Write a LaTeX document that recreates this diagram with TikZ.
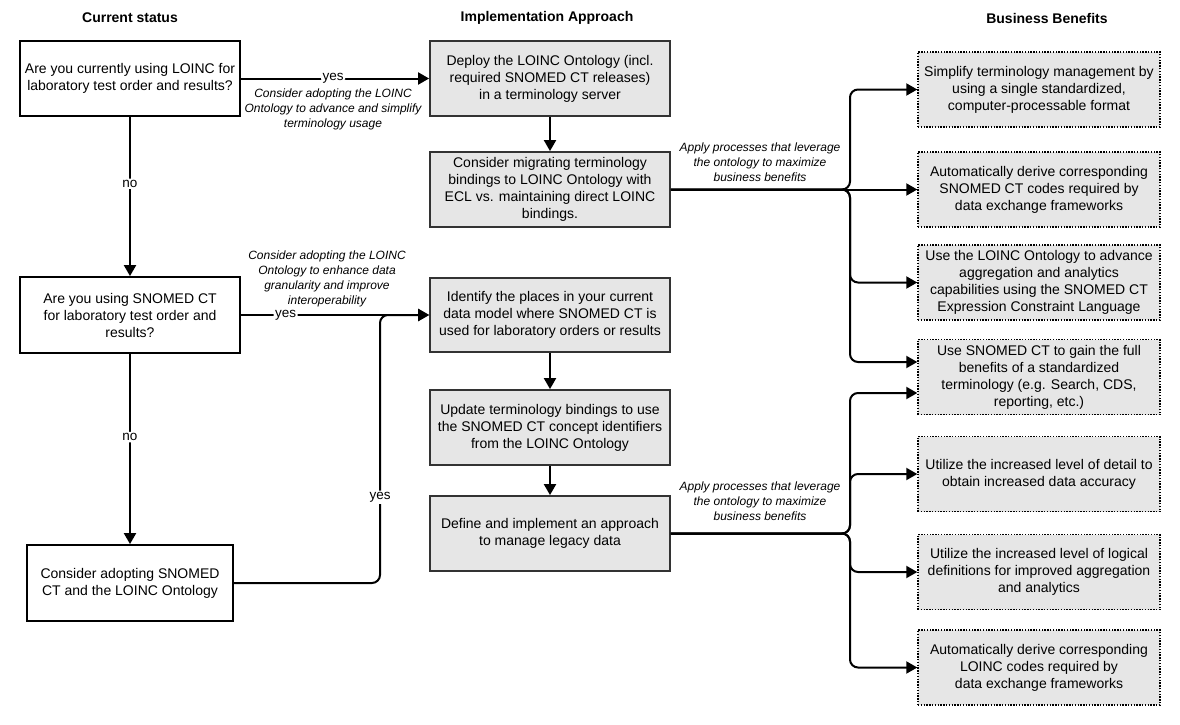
\documentclass[tikz,border=0pt]{standalone}
\usepackage{fontspec}
\setmainfont{Liberation Sans}
\usetikzlibrary{arrows.meta,calc}
\definecolor{boxgray}{HTML}{E6E6E6}
\definecolor{edgegray}{HTML}{333333}
\tikzset{
  basebox/.style={align=center, inner sep=0pt, font=\fontsize{14}{17}\selectfont},
  statusbox/.style={basebox, draw=black, fill=white, line width=1.8pt},
  implbox/.style={basebox, draw=edgegray, fill=boxgray, line width=1.8pt, minimum width=240pt, minimum height=75pt},
  benbox/.style={basebox, draw=black, fill=boxgray, line width=1.4pt, dash pattern=on 1.4pt off 1.4pt, minimum width=242pt, minimum height=75pt},
  title/.style={font=\bfseries\fontsize{14}{16}\selectfont},
  conn/.style={line width=2pt, draw=black, -{Triangle[length=11pt,width=12pt]}, rounded corners=8pt},
  elabel/.style={fill=white, inner sep=1.5pt, font=\fontsize{13.5}{15}\selectfont},
  note/.style={align=center, inner sep=0pt, font=\itshape\fontsize{12}{15}\selectfont},
}
\begin{document}
\begin{tikzpicture}[x=1pt,y=-1pt]
\useasboundingbox (0,0) rectangle (1180,725);

% titles
\node[title] (t1) at (130,18) {Current status};
\node[title] (t2) at (547,18) {Implementation Approach};
\node[title] (t3) at (1047,18) {Business Benefits};

% current status column
\node[statusbox, minimum width=220pt, minimum height=75pt] (A) at (130,78.5) {Are you currently using LOINC for\\laboratory test order and results?};
\node[statusbox, minimum width=220pt, minimum height=76pt] (B) at (130,315) {Are you using SNOMED CT\\for laboratory test order and\\results?};
\node[statusbox, minimum width=206pt, minimum height=76pt] (C) at (130,583) {Consider adopting SNOMED\\CT and the LOINC Ontology};

% implementation column
\node[implbox] (D) at (550,78.5) {Deploy the LOINC Ontology (incl.\\required SNOMED CT releases)\\in a terminology server};
\node[implbox] (E) at (550,189.5) {Consider migrating terminology\\bindings to LOINC Ontology with\\ECL vs. maintaining direct LOINC\\bindings.};
\node[implbox, minimum height=74pt] (F) at (550,315) {Identify the places in your current\\data model where SNOMED CT is\\used for laboratory orders or results};
\node[implbox] (G) at (550,427.5) {Update terminology bindings to use\\the SNOMED CT concept identifiers\\from the LOINC Ontology};
\node[implbox] (H) at (550,533.5) {Define and implement an approach\\to manage legacy data};

% benefits column
\node[benbox] (R1) at (1039,89.5) {Simplify terminology management by\\using a single standardized,\\computer-processable format};
\node[benbox] (R2) at (1039,189.5) {Automatically derive corresponding\\SNOMED CT codes required by\\data exchange frameworks};
\node[benbox] (R3) at (1039,282.5) {Use the LOINC Ontology to advance\\aggregation and analytics\\capabilities using the SNOMED CT\\Expression Constraint Language};
\node[benbox] (R4) at (1039,377) {Use SNOMED CT to gain the full\\benefits of a standardized\\terminology (e.g. Search, CDS,\\reporting, etc.)};
\node[benbox] (R5) at (1039,474) {Utilize the increased level of detail to\\obtain increased data accuracy};
\node[benbox] (R6) at (1039,572) {Utilize the increased level of logical\\definitions for improved aggregation\\and analytics};
\node[benbox] (R7) at (1039,667.5) {Automatically derive corresponding\\LOINC codes required by\\data exchange frameworks};

% junction columns
\coordinate (jx) at (850,0);
\coordinate (cx) at (380,0);

% left connectors
\draw[conn] (A.east) -- node[elabel, pos=0.49] (yes1) {yes} (D.west);
\node[note] (n1) at (333,109) {Consider adopting the LOINC\\Ontology to advance and simplify\\terminology usage};
\draw[conn] (A.south) -- node[elabel, pos=0.42] (no1) {no} (B.north);
\draw[conn] (B.east) -- node[elabel, pos=0.237] (yes2) {yes} (F.west);
\node[note] (n2) at (327,279) {Consider adopting the LOINC\\Ontology to enhance data\\granularity and improve\\interoperability};
\draw[conn] (B.south) -- node[elabel, pos=0.4375] (no2) {no} (C.north);
\draw[conn] (C.east) -- (C.east -| cx) -- node[elabel, pos=0.32] (yes3) {yes} (F.west -| cx) -- (F.west);

% implementation chain
\draw[conn] (D.south) -- (E.north);
\draw[conn] (F.south) -- (G.north);
\draw[conn] (G.south) -- (H.north);

% top branch
\node[note] (n3) at (760,162) {Apply processes that leverage\\the ontology to maximize\\business benefits};
\draw[conn] (E.east) -- (E.east -| jx) |- (R1.west);
\draw[conn] (E.east) -- (R2.west);
\draw[conn] (E.east) -- (E.east -| jx) |- (R3.west);
\draw[conn] (E.east) -- (E.east -| jx) |- ([yshift=15pt]R4.west);

% bottom branch
\node[note] (n4) at (760,501) {Apply processes that leverage\\the ontology to maximize\\business benefits};
\draw[conn] (H.east) -- (H.east -| jx) |- ([yshift=-16pt]R4.west);
\draw[conn] (H.east) -- (H.east -| jx) |- (R5.west);
\draw[conn] (H.east) -- (H.east -| jx) |- (R6.west);
\draw[conn] (H.east) -- (H.east -| jx) |- (R7.west);
\end{tikzpicture}
\end{document}
